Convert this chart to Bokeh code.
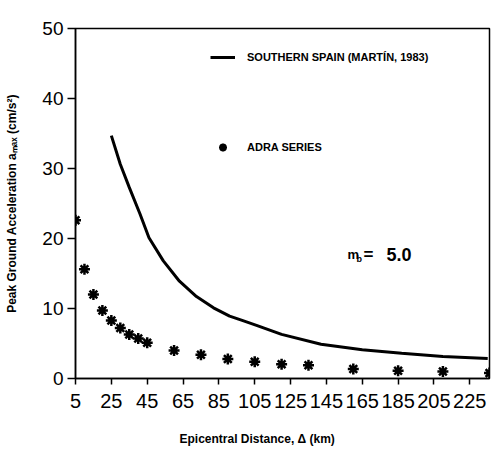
from bokeh.plotting import figure
from bokeh.models import Range1d, FixedTicker, Legend, LegendItem, Label, Title
from bokeh.embed import file_html
from bokeh.resources import INLINE

# --- data ---
x_ticks = [5, 25, 45, 65, 85, 105, 125, 145, 165, 185, 205, 225]
y_ticks = [0, 10, 20, 30, 40, 50]

adra_dist = [5, 10, 15, 20, 25, 30, 35, 40, 45, 60, 75, 90, 105, 120, 135, 160, 185, 210, 236]
adra_acc = [22.6, 15.6, 12.0, 9.7, 8.3, 7.2, 6.3, 5.7, 5.1, 4.0, 3.4, 2.8, 2.4, 2.05, 1.9, 1.35, 1.1, 1.0, 0.77]

spain_dist = [25, 30, 35, 41, 46, 54, 63, 72.5, 82, 91, 98, 106, 120, 142, 165, 187, 210, 235]
spain_acc = [34.7, 30.6, 27.3, 23.5, 20.1, 16.8, 13.9, 11.7, 10.1, 8.9, 8.3, 7.6, 6.3, 4.9, 4.1, 3.6, 3.15, 2.85]

FONT = "Liberation Sans"

p = figure(width=495, height=472, output_backend="svg", toolbar_location=None,
           x_range=Range1d(5, 236), y_range=Range1d(0, 50),
           min_border_left=75, min_border_right=6, min_border_top=28, min_border_bottom=94)

p.xgrid.visible = False
p.ygrid.visible = False
p.outline_line_color = "black"
p.outline_line_width = 1.5
p.background_fill_color = "white"
p.border_fill_color = "white"

line = p.line(spain_dist, spain_acc, line_color="black", line_width=3)
pts = p.scatter(adra_dist, adra_acc, marker="asterisk", size=11, line_color="black", line_width=2.5)

# axes
xa = p.xaxis[0]
xa.ticker = FixedTicker(ticks=x_ticks)
xa.minor_tick_line_color = None
xa.major_tick_out = 6
xa.major_tick_in = 0
xa.major_tick_line_width = 1.5
xa.axis_line_width = 1.5
xa.major_label_standoff = 9
xa.major_label_text_font = FONT
xa.major_label_text_font_size = "20px"
xa.major_label_text_color = "black"

ya = p.yaxis[0]
ya.ticker = FixedTicker(ticks=y_ticks)
ya.minor_tick_line_color = None
ya.major_tick_out = 8
ya.major_tick_in = 0
ya.major_tick_line_width = 1.5
ya.axis_line_width = 1.5
ya.major_label_standoff = 4
ya.major_label_text_font = FONT
ya.major_label_text_font_size = "19px"
ya.major_label_text_color = "black"
ya.axis_label = "Peak Ground Acceleration a\u2098\u2090\u2093 (cm/s\u00b2)"
ya.axis_label_text_font = FONT
ya.axis_label_text_font_style = "bold"
ya.axis_label_text_font_size = "12px"
ya.axis_label_standoff = 20
ya.axis_label_text_color = "black"

# x title
p.add_layout(Title(text="Epicentral Distance, \u0394 (km)", align="left", offset=104,
                   standoff=38, text_font=FONT, text_font_style="bold",
                   text_font_size="12px", text_color="black"), "below")

# m_b = 5.0
p.add_layout(Label(x=272, y=124, x_units="screen", y_units="screen", text="m",
                   text_baseline="alphabetic", text_font=FONT, text_font_style="bold",
                   text_font_size="13px", text_color="black"))
p.add_layout(Label(x=281, y=120, x_units="screen", y_units="screen", text="b",
                   text_baseline="alphabetic", text_font=FONT, text_font_style="bold",
                   text_font_size="9px", text_color="black"))
p.add_layout(Label(x=288, y=124, x_units="screen", y_units="screen", text="=",
                   text_baseline="alphabetic", text_font=FONT, text_font_style="bold",
                   text_font_size="17px", text_color="black"))
p.add_layout(Label(x=311, y=124, x_units="screen", y_units="screen", text="5.0",
                   text_baseline="alphabetic", text_font=FONT, text_font_style="bold",
                   text_font_size="18px", text_color="black"))

legend = Legend(items=[LegendItem(label="SOUTHERN SPAIN (MARTÍN, 1983)", renderers=[line]),
                       LegendItem(label="ADRA SERIES", renderers=[pts])],
                location=(135, 221), orientation="vertical",
                glyph_width=25, glyph_height=20, label_height=20, label_standoff=12,
                spacing=70, padding=0, margin=0,
                border_line_color=None, background_fill_alpha=0,
                label_text_font=FONT, label_text_font_style="bold",
                label_text_font_size="11px", label_text_color="black")
p.add_layout(legend)

open("out.html", "w").write(file_html(p, INLINE))
